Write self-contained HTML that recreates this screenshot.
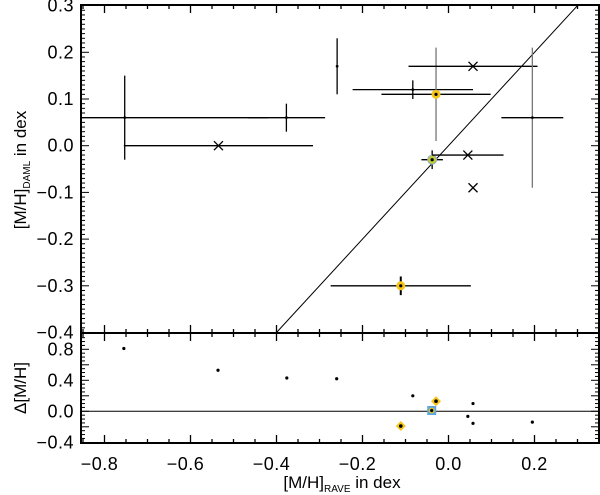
<!DOCTYPE html>
<html><head><meta charset="utf-8"><style>
html,body{margin:0;padding:0;background:#fff;}
svg{display:block;font-family:"Liberation Sans",sans-serif;}
</style></head><body>
<svg id="chart" width="600" height="495" viewBox="0 0 600 495" xmlns="http://www.w3.org/2000/svg">
<g id="topPanel"></g>
<g id="botPanel"></g>
<text transform="translate(26,170) rotate(-90)" text-anchor="middle" font-size="17">[M/H]<tspan font-size="10" dy="4">DAML</tspan><tspan dy="-4"> in dex</tspan></text>
<text transform="translate(26,388) rotate(-90)" text-anchor="middle" font-size="17">Δ[M/H]</text>
<text x="342" y="488" text-anchor="middle" font-size="17">[M/H]<tspan font-size="10" dy="4">RAVE</tspan><tspan dy="-4"> in dex</tspan></text>
</svg>
<script>
const xs   = [-0.753,-0.377,-0.259,-0.083,-0.029,0.057,-0.535,-0.038,0.045,0.057,0.195,-0.111];
const ys   = [0.06,0.06,0.17,0.12,0.11,0.17,0.0,-0.03,-0.02,-0.09,0.06,-0.30];
const xerr = [0.334,0.09,0,0.14,0.127,0.15,0.22,0.025,0.083,0,0.072,0.163];
const yerr = [0.09,0.03,0.06,0.02,0.10,0,0,0.02,0,0,0.15,0.02];
const kinds = ['dot','dot','dot','dot','yellow','cross','cross','green','cross','cross','dot','yellow'];
const resX = [-0.755,-0.536,-0.376,-0.26,-0.083,-0.029,-0.039,-0.111,0.045,0.057,0.057,0.195];
const resY = [0.81,0.53,0.43,0.42,0.20,0.13,0.01,-0.19,-0.065,0.10,-0.155,-0.14];
const resKinds = ['dot','dot','dot','dot','dot','yellow','blue','yellow','dot','dot','dot','dot'];
const xTicks = [-0.8,-0.6,-0.4,-0.2,0.0,0.2];
const yTicksTop = [-0.4,-0.3,-0.2,-0.1,0.0,0.1,0.2,0.3];
const yTicksBot = [-0.4,0.0,0.4,0.8];

const NS="http://www.w3.org/2000/svg";
const L=81,R=599,T1=5,B1=333,T2=333,B2=443;
const X=v=>448.5+v*430;
const Y1=v=>145.7-v*467;
const Y2=v=>411.3-v*77.5;
const topG=document.getElementById('topPanel'), botG=document.getElementById('botPanel');
function mk(p,tag,a){const e=document.createElementNS(NS,tag);for(const k in a)e.setAttribute(k,a[k]);p.appendChild(e);return e;}
function fmt(v){return (v<0?'\u2212':'')+Math.abs(v).toFixed(1);}

const defs=mk(document.getElementById('chart'),'defs',{});
const c1=mk(defs,'clipPath',{id:'c1'});mk(c1,'rect',{x:L,y:T1,width:R-L,height:B1-T1});
const data1=mk(topG,'g',{'clip-path':'url(#c1)'});



const ln=mk(data1,'line',{x1:X(-0.4),y1:Y1(-0.4),x2:X(0.32),y2:Y1(0.32),stroke:'#000','stroke-width':1});



for(let i=0;i<xs.length;i++){
  const g=mk(data1,'g',{});
  
  
  const cx=X(xs[i]),cy=Y1(ys[i]);
  if(xerr[i]>0) mk(g,'line',{x1:X(xs[i]-xerr[i]),x2:X(xs[i]+xerr[i]),y1:cy,y2:cy,stroke:'#000','stroke-width':1.3});
  if(yerr[i]>0) mk(g,'line',{x1:cx,x2:cx,y1:Y1(ys[i]-yerr[i]),y2:Y1(ys[i]+yerr[i]),stroke:(i==4||i==10)?'#777':'#000','stroke-width':(i==11)?2:1.3});
  if(kinds[i]=='cross'){mk(g,'path',{d:`M${cx-4.5},${cy-4.5}L${cx+4.5},${cy+4.5}M${cx-4.5},${cy+4.5}L${cx+4.5},${cy-4.5}`,stroke:'#000','stroke-width':1.3});}
  else if(kinds[i]=='yellow'){mk(g,'circle',{cx:cx,cy:cy,r:4.5,fill:'#f5c518'});mk(g,'circle',{cx:cx,cy:cy,r:1.6,fill:'#000'});}
  else if(kinds[i]=='green'){mk(g,'circle',{cx:cx,cy:cy,r:5,fill:'#8fb3c8'});mk(g,'circle',{cx:cx,cy:cy,r:4,fill:'#c2c83a'});mk(g,'circle',{cx:cx,cy:cy,r:1.6,fill:'#000'});}
  else mk(g,'circle',{cx:cx,cy:cy,r:1.4,fill:'#000'});
}

const zl=mk(botG,'line',{x1:L,x2:R,y1:Y2(0),y2:Y2(0),stroke:'#000','stroke-width':1});


for(let i=0;i<resX.length;i++){
  const g=mk(botG,'g',{});
  
  
  const cx=X(resX[i]),cy=Y2(resY[i]);
  if(resKinds[i]=='yellow'){mk(g,'path',{d:`M${cx},${cy-5}L${cx+5},${cy}L${cx},${cy+5}L${cx-5},${cy}Z`,fill:'#f5c518'});mk(g,'circle',{cx:cx,cy:cy,r:1.8,fill:'#000'});}
  else if(resKinds[i]=='blue'){mk(g,'rect',{x:cx-4.5,y:cy-4.5,width:9,height:9,fill:'#5aa6e0'});mk(g,'circle',{cx:cx,cy:cy,r:3,fill:'#e0c030'});mk(g,'circle',{cx:cx,cy:cy,r:1.6,fill:'#000'});}
  else mk(g,'circle',{cx:cx,cy:cy,r:1.6,fill:'#000'});
}

function frame(p,t,b,name){
  const r=mk(p,'rect',{x:L,y:t,width:R-L,height:b-t,fill:'none',stroke:'#000','stroke-width':2});
  
  
  for(let k=-17;k<=7;k++){
    const vv=k*0.05;const x=X(vv);if(x<L+1||x>R-1)continue;
    const major=(k%4===0);
    const len=major?8:4;
    mk(p,'line',{x1:x,x2:x,y1:b,y2:b-len,stroke:'#000','stroke-width':1.3});
    mk(p,'line',{x1:x,x2:x,y1:t,y2:t+len,stroke:'#000','stroke-width':1.3});
  }
}
frame(topG,T1,B1,'top-frame');
frame(botG,T2,B2,'bottom-frame');
for(let k=-40;k<=30;k++){const v=k/100,y=Y1(v);if(y<T1+1||y>B1-1)continue;const len=(k%10==0)?8:4;
  mk(topG,'line',{x1:L,x2:L+len,y1:y,y2:y,stroke:'#000','stroke-width':1});mk(topG,'line',{x1:R,x2:R-len,y1:y,y2:y,stroke:'#000','stroke-width':1});}
for(let k=-8;k<=20;k++){const v=k/20,y=Y2(v);if(y<T2+1||y>B2-1)continue;const len=(k%4==0)?8:4;
  mk(botG,'line',{x1:L,x2:L+len,y1:y,y2:y,stroke:'#000','stroke-width':1});mk(botG,'line',{x1:R,x2:R-len,y1:y,y2:y,stroke:'#000','stroke-width':1});}
yTicksTop.forEach(v=>{const t=mk(topG,'text',{x:74,y:Y1(v)+6,'text-anchor':'end','font-size':18,'letter-spacing':0.5});t.textContent=fmt(v);
  
  });
yTicksBot.forEach(v=>{const t=mk(botG,'text',{x:74,y:Y2(v)+6,'text-anchor':'end','font-size':18,'letter-spacing':0.5});t.textContent=fmt(v);
  
  });
xTicks.forEach(v=>{const t=mk(botG,'text',{x:X(v)-(v<0?5:0),y:470,'text-anchor':'middle','font-size':18,'letter-spacing':0.5});t.textContent=fmt(v);
  
  });
</script>
</body></html>
